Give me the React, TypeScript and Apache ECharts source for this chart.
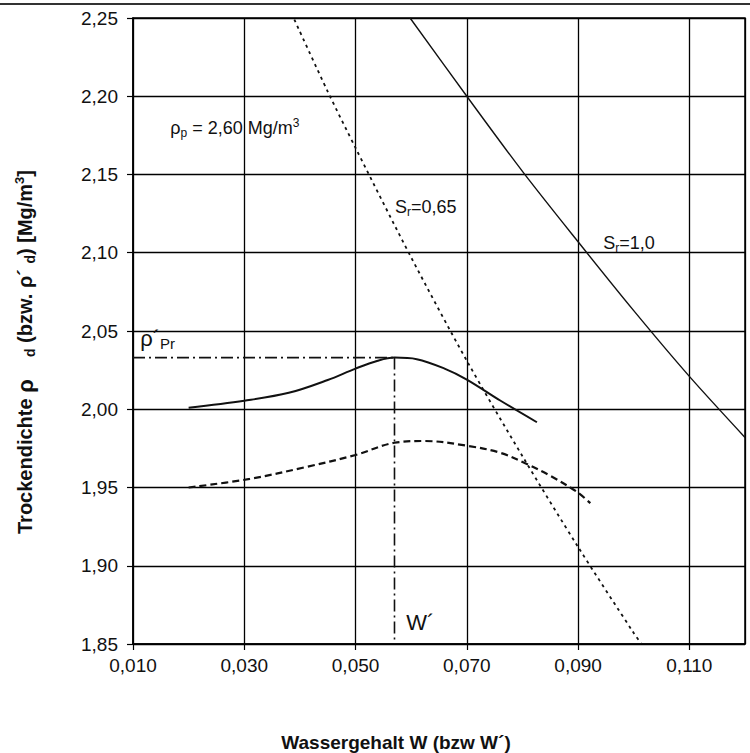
import React, { useEffect, useRef } from "react";
import * as echarts from "echarts";

const FONT = '"Liberation Sans", Arial, Helvetica, sans-serif';

// Axis extents
const xMin = 0.01;
const xMax = 0.12;
const xStep = 0.02;
const yMin = 1.85;
const yMax = 2.25;
const yStep = 0.05;

// Proctor curve (solid)
const solidW = [0.02, 0.03, 0.038, 0.045, 0.05, 0.054, 0.057, 0.061, 0.066, 0.07, 0.076, 0.0826];
const solidRho = [2.001, 2.0055, 2.0105, 2.0187, 2.026, 2.031, 2.033, 2.032, 2.026, 2.019, 2.0056, 1.9917];

// Proctor curve (dashed)
const dashedW = [0.02, 0.031, 0.041, 0.05, 0.057, 0.0625, 0.07, 0.076, 0.0805, 0.085, 0.0897, 0.0922];
const dashedRho = [1.95, 1.9555, 1.963, 1.9708, 1.9786, 1.9797, 1.9767, 1.9722, 1.9655, 1.9575, 1.9474, 1.94];

// Saturation line Sr = 1,0
const sat100W = [0.0598, 0.07, 0.08, 0.09, 0.1, 0.11, 0.12];
const sat100Rho = [2.25, 2.2, 2.152, 2.107, 2.063, 2.021, 1.982];

// Saturation line Sr = 0,65
const sat65W = [0.039, 0.045, 0.05, 0.06, 0.07, 0.08, 0.09, 0.1, 0.1014];
const sat65Rho = [2.249, 2.203, 2.167, 2.097, 2.031, 1.97, 1.912, 1.857, 1.85];

// Proctor optimum (read-off point)
const optW = 0.057;
const optRho = 2.033;

// Annotation anchors [w, rho]
const anchorRhoP = [0.0167, 2.18];
const anchorSr65 = [0.0571, 2.129];
const anchorSr100 = [0.0945, 2.1064];
const anchorW = [0.0591, 1.864];
const anchorRhoPr = [0.0113, 2.045];

const zip = (a: number[], b: number[]) => a.map((v, i) => [v, b[i]]);

export default function App() {
  const ref = useRef<HTMLDivElement>(null);

  useEffect(() => {
    if (!ref.current) return;
    const chart = echarts.init(ref.current, undefined, { renderer: "svg" });

    const txt = { color: "#111", fontFamily: FONT, fontSize: 18, lineHeight: 22 };
    const subRich = {
      sub: { fontFamily: FONT, fontSize: 12, color: "#111", verticalAlign: "bottom", lineHeight: 10 },
      sup: { fontFamily: FONT, fontSize: 12, color: "#111", verticalAlign: "top", lineHeight: 10 },
      big: { fontFamily: FONT, fontSize: 22, color: "#111", lineHeight: 24 },
      psub: { fontFamily: FONT, fontSize: 15, color: "#111", verticalAlign: "bottom", lineHeight: 12 },
    };

    const mk = (coord: number[], formatter: string, extra: any = {}) => ({
      coord,
      symbolSize: 0,
      label: { show: true, position: "right", distance: 0, formatter, ...txt, rich: subRich, ...extra },
    });

    const option: any = {
      animation: false,
      backgroundColor: "#fff",
      grid: {
        left: 133,
        right: 5,
        top: 18,
        bottom: 109,
        show: true,
        borderColor: "#000",
        borderWidth: 1.5,
        backgroundColor: "transparent",
      },
      xAxis: {
        type: "value",
        min: xMin,
        max: xMax,
        interval: xStep,
        axisLine: { show: true, lineStyle: { color: "#000", width: 1.5 } },
        axisTick: { show: true, length: 6, lineStyle: { color: "#000", width: 1.2 } },
        splitLine: { show: true, lineStyle: { color: "#000", width: 1.3 } },
        axisLabel: {
          margin: 12,
          color: "#111",
          fontFamily: FONT,
          fontSize: 19,
          showMaxLabel: false,
          formatter: (v: number) => (Math.abs(v - xMax) < 1e-9 ? "" : v.toFixed(3).replace(".", ",")),
        },
      },
      yAxis: {
        type: "value",
        min: yMin,
        max: yMax,
        interval: yStep,
        axisLine: { show: true, lineStyle: { color: "#000", width: 1.5 } },
        axisTick: { show: true, length: 6, lineStyle: { color: "#000", width: 1.2 } },
        splitLine: { show: true, lineStyle: { color: "#000", width: 1.3 } },
        axisLabel: {
          margin: 15,
          color: "#111",
          fontFamily: FONT,
          fontSize: 19,
          formatter: (v: number) => v.toFixed(2).replace(".", ","),
        },
      },
      series: [
        {
          type: "line",
          name: "Sr=1,0",
          data: zip(sat100W, sat100Rho),
          symbol: "none",
          smooth: 0.3,
          lineStyle: { color: "#111", width: 1.4 },
          silent: true,
          markPoint: {
            symbol: "circle",
            symbolSize: 0,
            silent: true,
            itemStyle: { color: "rgba(0,0,0,0)" },
            data: [
              mk(anchorRhoP, "ρ{sub|p} = 2,60 Mg/m{sup|3}"),
              mk(anchorSr65, "S{sub|r}=0,65"),
              mk(anchorSr100, "S{sub|r}=1,0"),
              mk(anchorW, "W´", { fontSize: 22, lineHeight: 26 }),
              mk(anchorRhoPr, "{big|ρ´}{psub|Pr}"),
            ],
          },
        },
        {
          type: "line",
          name: "Sr=0,65",
          data: zip(sat65W, sat65Rho),
          symbol: "none",
          smooth: 0.3,
          lineStyle: { color: "#111", width: 1.8, type: [3, 4] },
          silent: true,
        },
        {
          type: "line",
          name: "Proctor",
          data: zip(solidW, solidRho),
          symbol: "none",
          smooth: 0.35,
          lineStyle: { color: "#111", width: 2 },
          silent: true,
        },
        {
          type: "line",
          name: "Proctor2",
          data: zip(dashedW, dashedRho),
          symbol: "none",
          smooth: 0.35,
          lineStyle: { color: "#111", width: 2.2, type: [7, 4] },
          silent: true,
        },
        {
          type: "line",
          name: "optH",
          data: [
            [xMin, optRho],
            [optW, optRho],
          ],
          symbol: "none",
          lineStyle: { color: "#111", width: 1.6, type: [12, 4, 2, 4] },
          silent: true,
        },
        {
          type: "line",
          name: "optV",
          data: [
            [optW, optRho],
            [optW, yMin],
          ],
          symbol: "none",
          lineStyle: { color: "#111", width: 1.6, type: [12, 4, 2, 4] },
          silent: true,
        },
      ],
      graphic: [
        {
          type: "line",
          silent: true,
          shape: { x1: 0, y1: 4, x2: 750, y2: 4 },
          style: { stroke: "#333", lineWidth: 2 },
        },
        {
          type: "text",
          x: 396,
          y: 742,
          silent: true,
          style: {
            text: "Wassergehalt W (bzw W´)",
            fill: "#111",
            fontFamily: FONT,
            fontSize: 19,
            fontWeight: "bold",
            align: "center",
            verticalAlign: "middle",
          },
        },
        {
          type: "text",
          x: 25,
          y: 352,
          rotation: Math.PI / 2,
          silent: true,
          style: {
            text: "Trockendichte {b|ρ}    {s|d} (bzw. ρ´ {s|d}) [Mg/m{p|3}]",
            fill: "#111",
            fontFamily: FONT,
            fontSize: 20,
            fontWeight: "bold",
            lineHeight: 24,
            align: "center",
            verticalAlign: "middle",
            rich: {
              b: { fontFamily: FONT, fontSize: 22, fontWeight: "bold", fill: "#111", lineHeight: 24 },
              s: { fontFamily: FONT, fontSize: 14, fontWeight: "bold", fill: "#111", verticalAlign: "bottom", lineHeight: 12 },
              p: { fontFamily: FONT, fontSize: 13, fontWeight: "bold", fill: "#111", verticalAlign: "top", lineHeight: 10 },
            },
          },
        },
      ],
    };

    chart.setOption(option);
    return () => chart.dispose();
  }, []);

  return (
    <div
      ref={ref}
      style={{ position: "fixed", left: 0, top: 0, width: 750, height: 753, background: "#fff" }}
    />
  );
}
